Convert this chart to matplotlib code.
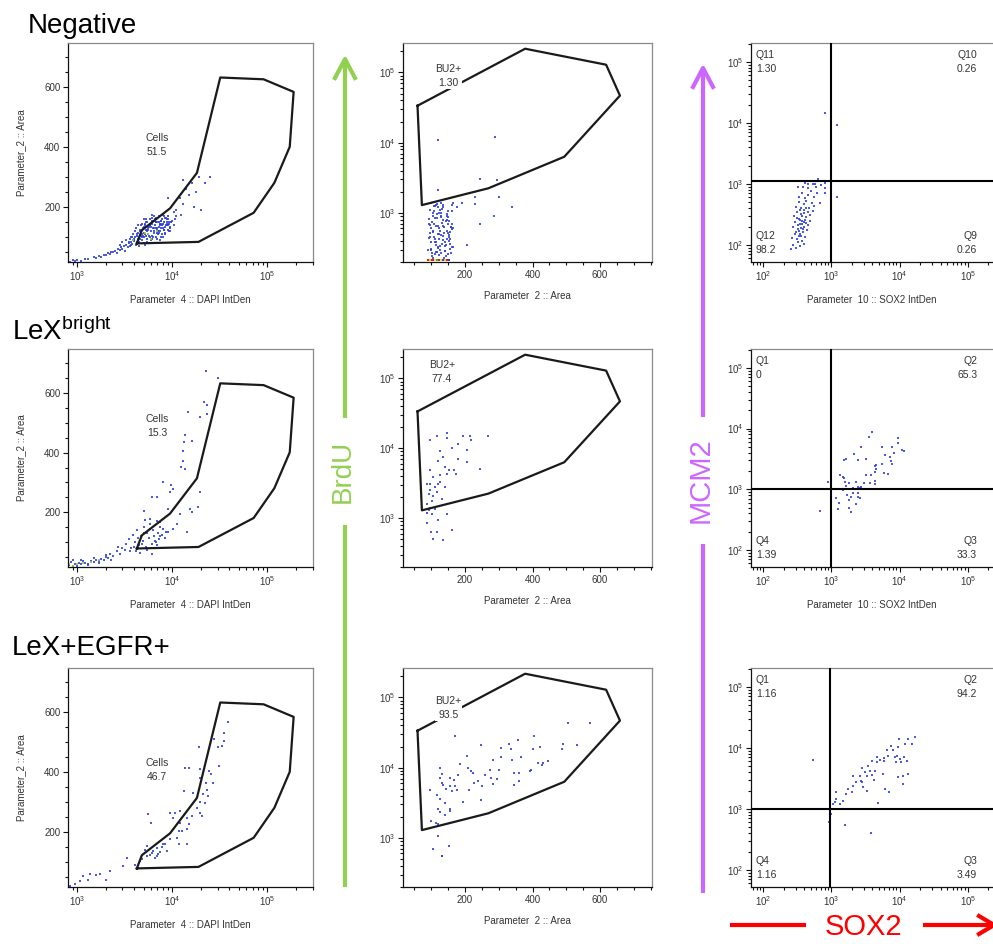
import numpy as np
import matplotlib
matplotlib.use("Agg")
import matplotlib.pyplot as plt
from matplotlib.ticker import MultipleLocator, LogLocator, NullFormatter

plt.rcParams["font.family"] = ["Liberation Sans", "DejaVu Sans"]
plt.rcParams["mathtext.fontset"] = "custom"
plt.rcParams["mathtext.rm"] = "Liberation Sans"
plt.rcParams["mathtext.it"] = "Liberation Sans:italic"
plt.rcParams["mathtext.bf"] = "Liberation Sans:bold"

# ---------------- data ----------------
row_titles = ["Negative", r"LeX$^{\mathrm{bright}}$", "LeX+EGFR+"]

# column 1 : DAPI IntDen vs Area, "Cells" gate
gate_dapi = [4250, 4800, 9500, 18200, 32000, 91400, 189000, 172000, 118600, 71800, 18900, 4250]
gate_area = [79, 123, 196, 314, 632, 626, 584, 401, 281, 181, 84, 79]
cells_pct = ["51.5", "15.3", "46.7"]
cells_label_y = [408, 490, 408]

neg_dapi = [800, 850, 900, 950, 1000, 1100, 1200, 1300, 1500, 1600, 1700, 1800, 1900, 2000, 2100, 2200,
            2300, 2400, 2500, 2600, 2700, 2800, 2900, 3000, 3100, 3200, 3300, 3400, 3500, 3600, 3700, 3800,
            3900, 4000,
            4100, 4200, 4300, 4400, 4500, 4600, 4700, 4800, 4900, 5000, 5100, 5200, 5300, 5400, 5500, 5600,
            5700, 5800, 5900, 6000, 6100, 6200, 6300, 6400, 6500, 6600, 6700, 6800, 6900, 7000, 7100, 7200,
            7300, 7400, 7500, 7600, 7800, 8000, 8200, 8400, 8600, 8800, 9000, 9300, 9600, 10000, 10400, 10800,
            3600, 3900, 4200, 4500, 5000, 5500, 6000, 3300, 3000, 2800, 4800, 5300, 6200, 7000, 8000,
            4300, 4600, 4900, 5200, 5500, 5800, 6100, 6400, 6700, 7000, 7300, 7600, 7900, 8200, 8500, 8800,
            9100, 9400, 9700, 4400, 4700, 5000, 5300, 5600, 5900, 6200, 6500, 6800, 7100, 7400, 7700, 8100,
            8500, 9000, 9500, 3700, 4000, 4400, 4800, 5200,
            3500, 3800, 4100, 4400, 4700, 5000, 5300, 5600, 5900, 6200, 6500, 6800, 7100, 7400, 7700, 8000,
            8300, 8600, 8900, 9200, 3650, 3950, 4250, 4550, 4850, 5150, 5450, 5750, 6050, 6350, 6650, 6950,
            7250, 7550, 7850, 8150, 8450, 8750, 9050, 9350,
            11000, 12000, 14000, 13000, 16000, 18000, 19000, 22000, 25000, 17000, 20000, 15000, 9000, 11000,
            13000, 10500, 12500]
neg_area = [22, 18, 25, 20, 24, 22, 28, 26, 35, 30, 38, 33, 42, 40, 48, 45,
            52, 50, 55, 48, 60, 58, 66, 62, 70, 55, 75, 68, 80, 72, 85, 78,
            92, 88,
            100, 75, 110, 95, 85, 120, 105, 90, 130, 115, 100, 140, 125, 95, 150, 110,
            135, 100, 160, 120, 145, 105, 130, 155, 115, 140, 100, 165, 125, 150, 110, 135,
            170, 120, 145, 100, 160, 130, 150, 115, 140, 160, 125, 150, 135, 155, 140, 160,
            95, 110, 130, 70, 80, 85, 90, 90, 85, 75, 145, 160, 175, 95, 100,
            85, 95, 105, 75, 125, 140, 95, 120, 150, 130, 115, 155, 140, 125, 165, 145,
            170, 130, 150, 115, 140, 160, 105, 130, 80, 155, 170, 130, 120, 90, 145, 175,
            110, 140, 120, 75, 95, 80, 100, 110,
            85, 100, 120, 140, 115, 135, 150, 125, 140, 165, 130, 150, 120, 140, 155, 145,
            125, 165, 140, 120, 100, 90, 105, 125, 110, 145, 120, 105, 135, 100, 160, 115,
            150, 130, 110, 170, 135, 150, 160, 145,
            190, 230, 260, 210, 280, 250, 300, 280, 300, 200, 190, 240, 230, 170,
            290, 185, 175]
neg_hot_dapi = [4500, 5200, 6000, 4800, 5600, 7000, 3900]
neg_hot_area = [100, 115, 95, 125, 110, 120, 90]

bright_dapi = [22700, 30100, 21800, 23200, 19800, 14600, 23200, 13700, 16200, 13200, 13000, 13000,
               12400, 13700, 7970, 9700, 10300, 9500, 19800, 6100, 6900, 15500, 18900, 16000, 5000,
               9100, 12100, 5900, 7500, 11200, 10300, 14300, 9100,
               3300, 3500, 3700, 3900, 4100, 4300, 4500, 4700, 4900, 5100, 5300, 5500, 5700, 5900,
               6100, 6300, 6500, 6700, 6900, 7100, 7300, 7500, 7800, 8100, 8400, 8700,
               4200, 4600, 5000, 5400, 5800, 6200, 6600, 7000, 7400, 3600, 4000, 4400, 4800, 5200,
               750, 780, 800, 830, 860, 900, 950, 1000, 1050, 1100, 1150, 1200, 1300, 1400, 1500,
               1600, 1700, 1800, 1900, 2000, 2100, 2200, 2400, 2600, 2800, 3000, 3200,
               900, 1100, 1300, 1500, 1700, 2000, 2300, 2700]
bright_area = [675, 649, 569, 558, 518, 535, 530, 459, 440, 437, 407, 373,
               351, 345, 301, 290, 278, 267, 267, 250, 250, 211, 217, 200, 206,
               211, 194, 178, 167, 161, 144, 133, 133,
               95, 110, 80, 125, 100, 140, 90, 120, 105, 150, 85, 130, 115, 160,
               95, 140, 120, 100, 170, 130, 110, 150, 125, 145, 115, 135,
               70, 65, 130, 75, 145, 60, 105, 90, 120, 70, 85, 115, 95, 175,
               20, 30, 18, 25, 35, 22, 28, 20, 32, 26, 38, 30, 28, 36, 33,
               42, 38, 45, 40, 52, 48, 60, 55, 70, 62, 80, 75,
               40, 42, 25, 48, 30, 58, 42, 85]
bright_hot_dapi = [760, 820, 900, 1000, 1150, 1400, 1700]
bright_hot_area = [22, 27, 20, 26, 30, 33, 40]

egfr_dapi = [38700, 35400, 35400, 33500, 27300, 19000, 30400, 30800, 24200, 13700, 15200, 19400,
             25400, 19700, 22500, 23000, 27000, 13200, 16700, 21300, 23700, 19800, 22200, 18200,
             19500, 16100, 20500, 5630, 5950, 9530, 10700, 12100, 14300, 14900, 14300, 12600,
             11200, 9500, 8100, 7000, 6350, 7150, 5400, 4600, 4060, 3320, 3060, 2210, 2040, 1750,
             1600, 1360, 1300, 1160, 1070, 950, 840, 800, 14300, 8800, 11800, 12100, 10300, 11800,
             5200, 5800, 6200, 6600, 7400, 7900, 8400, 4800, 5500, 6900]
egfr_area = [568, 529, 503, 487, 512, 483, 483, 420, 403, 414, 414, 409,
             395, 381, 364, 342, 364, 336, 331, 326, 320, 301, 298, 281,
             264, 253, 253, 259, 231, 264, 264, 270, 248, 226, 209, 203,
             181, 176, 159, 148, 137, 126, 120, 103, 92, 114, 87, 70, 42, 59,
             58, 59, 42, 53, 37, 26, 20, 31, 159, 137, 203, 231, 248, 159,
             140, 125, 130, 115, 135, 150, 160, 110, 155, 120]

# column 2 : Area vs BrdU, "BU2+" gate
gate2_area = [59, 378, 618, 659, 494, 269, 72, 59]
gate2_brdu = [33600, 218000, 129000, 46800, 6300, 2240, 1290, 33600]
bu2_pct = ["1.30", "77.4", "93.5"]
bu2_label_y = [10 ** 4.95, 10 ** 5.09, 10 ** 4.85]
bu2_label_x = [150, 131, 151]

neg2_area = [95, 100, 105, 110, 115, 120, 125, 130, 135, 140, 145, 150, 155, 160,
             98, 103, 108, 113, 118, 123, 128, 133, 138, 143, 148, 153, 158, 163,
             92, 97, 102, 107, 112, 117, 122, 127, 132, 137, 142, 147, 152, 157, 162,
             96, 101, 106, 111, 116, 121, 126, 131, 136, 141, 146, 151, 156,
             94, 99, 104, 109, 114, 119, 124, 129, 134, 139, 144, 149, 154, 159,
             112, 118, 124, 130, 136,
             90, 95, 100, 105, 110, 115, 120, 125, 130, 135, 140, 145, 150, 155, 160, 165,
             93, 108, 123, 138, 153, 100, 115, 130, 145, 160, 105, 120, 135, 150,
             120, 290, 245, 295, 120, 230, 300, 340, 190, 230, 175, 245, 285, 205, 165, 160]
neg2_brdu = [520, 380, 900, 260, 650, 1200, 340, 480, 800, 290, 560, 1050, 420, 700,
             310, 750, 450, 1300, 280, 600, 980, 360, 520, 240, 880, 400, 630, 330,
             440, 1100, 270, 700, 380, 950, 500, 300, 1150, 620, 350, 780, 460, 270, 580,
             680, 240, 1000, 420, 850, 330, 560, 720, 410, 290, 900, 480, 360,
             820, 300, 540, 1050, 380, 660, 250, 900, 470, 340, 760, 520, 310, 620,
             1250, 1350, 1000, 1400, 1200,
             300, 450, 600, 230, 850, 350, 500, 1100, 270, 650, 380, 950, 260, 540, 330, 600,
             700, 1250, 420, 230, 760, 1400, 280, 880, 430, 1050, 560, 320, 1300, 700,
             11000, 12000, 3000, 2900, 2100, 1700, 1700, 1200, 1400, 1350, 1200, 700, 900, 350, 1400, 1300]
neg2_floor_area = [92, 98, 104, 110, 116, 122, 128, 134, 140, 146, 152]

bright2_area = [146, 116, 193, 215, 269, 97, 146, 218, 180, 160, 126, 205, 136, 121, 180, 141, 205,
                244, 166, 151, 146, 173, 97, 106, 126, 87, 111, 121, 126, 97, 92, 106, 116, 102, 87,
                97, 111, 87, 102, 146, 87, 121, 99, 116, 160, 106, 136, 92, 139, 131, 97]
bright2_brdu = [16600, 15000, 15000, 15000, 15000, 12900, 14000, 12900, 11500, 10100, 9060, 9500,
                7400, 6460, 6900, 5400, 6300, 5060, 4800, 4900, 4300, 4300, 4800, 3850, 4200, 3100,
                2750, 3100, 3250, 2500, 2200, 2100, 2400, 1780, 1600, 1400, 1370, 1170, 1130, 1130,
                860, 940, 630, 630, 670, 500, 480, 1300, 2750, 1900, 3100]

egfr2_area = [505, 569, 170, 247, 405, 358, 331, 489, 532, 422, 400, 305, 336, 486, 205, 305, 367,
              340, 284, 432, 446, 417, 429, 185, 210, 126, 300, 274, 394, 392, 217, 223, 131, 180,
              259, 345, 360, 126, 239, 278, 295, 360, 155, 167, 131, 225, 345, 249, 284, 155, 170,
              134, 143, 175, 97, 160, 116, 213, 126, 195, 247, 141, 121, 155, 126, 141, 155, 99,
              115, 121, 121, 151, 104, 131, 133]
egfr2_brdu = [44000, 42900, 28400, 21100, 28000, 25000, 21400, 21400, 21000, 19700, 18500, 19300,
              18600, 18500, 14700, 14300, 14300, 13000, 13000, 11700, 12600, 11600, 10800, 11100,
              10000, 10000, 9200, 9200, 9300, 9000, 8900, 8500, 8200, 7900, 7900, 8500, 8400, 7200,
              6500, 7100, 6800, 6400, 7200, 6600, 6100, 6100, 5600, 5500, 5900, 5500, 5500, 5600,
              4900, 4800, 4800, 4600, 4100, 4800, 3530, 3200, 3500, 3100, 2540, 2540, 2340, 2150,
              2400, 1730, 1650, 1600, 1050, 760, 700, 550, 545]

# column 3 : SOX2 IntDen vs MCM2, quadrant gates
quad_names = [["Q11", "Q10", "Q12", "Q9"], ["Q1", "Q2", "Q4", "Q3"], ["Q1", "Q2", "Q4", "Q3"]]
quad_pct = [["1.30", "0.26", "98.2", "0.26"], ["0", "65.3", "1.39", "33.3"], ["1.16", "94.2", "1.16", "3.49"]]
quad_x = [1000, 1000, 950]
quad_y = [1120, 1000, 1000]

neg3_sox2 = [255, 275, 300, 320, 340, 370, 390,
             265, 290, 310, 335, 360, 385, 410, 440,
             270, 295, 320, 345, 370, 395, 420, 450, 480,
             285, 310, 335, 360, 390, 420, 450, 490, 530,
             300, 330, 360, 395, 430, 470, 510, 560,
             330, 370, 410, 450, 500, 560, 620,
             380, 460, 540, 600, 700,
             320, 340, 355, 375, 390, 345, 365, 400, 315, 350, 380, 410, 430, 300, 330,
             817, 1210, 1190, 638, 570, 410, 460, 800, 800, 800, 690, 325, 720]
neg3_mcm2 = [85, 100, 90, 110, 95, 115, 105,
             130, 150, 125, 170, 140, 160, 135, 175,
             200, 240, 185, 220, 250, 195, 230, 210, 250,
             300, 350, 270, 320, 370, 290, 340, 310, 360,
             420, 500, 400, 460, 530, 410, 480, 440,
             600, 700, 580, 650, 760, 620, 720,
             900, 850, 1000, 880, 950,
             210, 260, 190, 300, 240, 150, 220, 330, 280, 380, 180, 260, 400, 160, 140,
             14500, 9200, 617, 1190, 1000, 1030, 1000, 1030, 850, 700, 480, 900, 1100]

bright3_sox2 = [4000, 3500, 2700, 2150, 1530, 3180, 2470, 5600, 7800, 9500, 9500, 11000, 11500,
                6100, 7200, 8300, 7400, 7800, 5500, 4500, 4500, 4300, 3800, 3200, 5900, 6800, 4350,
                3650, 4300, 3000, 2700, 2300, 2450, 2040, 1830, 1600, 1350, 1530, 1620, 1470, 2040,
                2450, 1710, 1960, 2450, 1830, 2280, 1170, 1300, 1250, 1830, 1960, 2600, 2600, 3250,
                670, 890, 1470, 4300, 1620]
bright3_mcm2 = [8800, 7200, 4900, 3850, 3000, 3200, 3000, 4900, 4900, 6900, 5700, 4500, 4300,
                3700, 3400, 3900, 2900, 2600, 2600, 2500, 2130, 1950, 1700, 1700, 1850, 1800, 1390,
                1260, 1200, 1260, 1090, 1300, 1100, 1040, 1260, 1330, 1720, 1520, 1150, 975, 860,
                860, 800, 760, 760, 670, 580, 720, 590, 470, 490, 430, 720, 1040, 1000,
                440, 1330, 1610, 2400, 3100]

egfr3_sox2 = [530, 16700, 13300, 9700, 15200, 12100, 7400, 9400, 6500, 8000, 6700, 8500, 5900,
              4600, 5200, 9300, 11500, 12900, 10600, 10000, 8900, 4000, 3450, 4600, 5900, 3700,
              4360, 2850, 3100, 2100, 2630, 3300, 3900, 5700, 9600, 11200, 13500, 11400, 2330,
              2800, 2950, 2100, 1760, 2000, 1660, 1480, 1180, 1120, 1320, 1050, 1180, 2750, 4170,
              6900, 4900, 6200, 3300, 1000, 930, 1580, 3780]
egfr3_mcm2 = [6400, 15100, 14000, 14000, 11400, 11800, 10800, 10500, 9200, 9400, 7400, 7000, 6900,
              7000, 6300, 7500, 7000, 6200, 5800, 6600, 5800, 6100, 5100, 5800, 6000, 4250,
              4200, 4700, 4000, 3400, 3400, 3500, 3600, 3750, 3300, 3500, 3800, 2570, 2750,
              2750, 2270, 2400, 2130, 1870, 1770, 1370, 1450, 1290, 1200, 1200, 1880, 2900, 3000,
              1870, 1240, 2100, 2000, 830, 600, 550, 400]

col1_data = [(neg_dapi, neg_area), (bright_dapi, bright_area), (egfr_dapi, egfr_area)]
col1_hot = [(neg_hot_dapi, neg_hot_area), (bright_hot_dapi, bright_hot_area), None]
col2_data = [(neg2_area, neg2_brdu), (bright2_area, bright2_brdu), (egfr2_area, egfr2_brdu)]
col3_data = [(neg3_sox2, neg3_mcm2), (bright3_sox2, bright3_mcm2), (egfr3_sox2, egfr3_mcm2)]

# ---------------- layout ----------------
W, H = 993, 944
fig = plt.figure(figsize=(W / 100, H / 100), dpi=100)

rows = [(43, 262), (349, 567), (668, 887)]
cols = [(68, 313), (403, 652), (751, 993)]

DOT = "#2b3ee0"
HOT = "#9acd32"
TXT = "#333333"


def add_ax(c, r):
    (l, rr), (t, b) = cols[c], rows[r]
    return fig.add_axes([l / W, 1 - b / H, (rr - l) / W, (b - t) / H])


def style(ax):
    for s in ["top", "right"]:
        ax.spines[s].set_color("#8a8a8a")
    for s in ["left", "bottom"]:
        ax.spines[s].set_color("#111111")
    for s in ax.spines.values():
        s.set_linewidth(0.9)
    ax.tick_params(which="both", direction="out", top=False, right=False,
                   labelsize=7, labelcolor=TXT, color="#111111", width=0.8)
    ax.tick_params(which="major", length=3.5, pad=2)
    ax.tick_params(which="minor", length=2)


def log_ticks(axis):
    axis.set_major_locator(LogLocator(base=10, numticks=20))
    axis.set_minor_locator(LogLocator(base=10, subs=np.arange(2, 10) * 1.0, numticks=100))
    axis.set_minor_formatter(NullFormatter())


def dots(ax, x, y, color=DOT):
    ax.scatter(x, y, s=2.2, marker="s", color=color, linewidths=0, alpha=0.85, zorder=2)


for r in range(3):
    # column 1
    ax = add_ax(0, r)
    ax.set_xscale("log")
    ax.set_xlim(10 ** 2.905, 10 ** 5.48)
    ax.set_ylim(17, 747)
    log_ticks(ax.xaxis)
    ax.yaxis.set_major_locator(MultipleLocator(200))
    ax.yaxis.set_minor_locator(MultipleLocator(50))
    dots(ax, *col1_data[r])
    if col1_hot[r] is not None:
        dots(ax, *col1_hot[r], color=HOT)
    ax.plot(gate_dapi, gate_area, color="#1a1a1a", lw=1.6, zorder=3)
    ax.text(6900, cells_label_y[r], "Cells\n" + cells_pct[r], ha="center", va="center",
            fontsize=7.5, color=TXT, linespacing=1.5)
    ax.set_xlabel("Parameter  4 :: DAPI IntDen", fontsize=7, color=TXT, labelpad=8)
    ax.set_ylabel("Parameter_2 :: Area", fontsize=7, color=TXT, labelpad=13)
    style(ax)

    # column 2
    ax = add_ax(1, r)
    ax.set_yscale("log")
    ax.set_xlim(16, 754)
    ax.set_ylim(10 ** 2.30, 10 ** 5.42)
    log_ticks(ax.yaxis)
    ax.xaxis.set_major_locator(MultipleLocator(200))
    ax.xaxis.set_minor_locator(MultipleLocator(50))
    dots(ax, *col2_data[r])
    if r == 0:
        ax.scatter(neg2_floor_area, [212] * len(neg2_floor_area), s=3, marker="s",
                   color=["#e02020", "#e8d020", "#e02020", "#f0e040", "#40b040", "#e02020",
                          "#f0e040", "#2b3ee0", "#e8d020", "#e02020", "#2b3ee0"],
                   linewidths=0, zorder=2, clip_on=False)
    ax.plot(gate2_area, gate2_brdu, color="#1a1a1a", lw=1.6, zorder=3)
    ax.text(bu2_label_x[r], bu2_label_y[r], "BU2+\n" + bu2_pct[r], ha="center", va="center",
            fontsize=7.5, color=TXT, linespacing=1.5, zorder=4,
            bbox=dict(boxstyle="square,pad=0.05", fc="white", ec="none"))
    ax.set_xlabel("Parameter  2 :: Area", fontsize=7, color=TXT, labelpad=8)
    style(ax)

    # column 3
    ax = add_ax(2, r)
    ax.set_xscale("log")
    ax.set_yscale("log")
    ax.set_xlim(10 ** 1.82, 10 ** 5.37)
    ax.set_ylim(10 ** 1.72, 10 ** 5.31)
    log_ticks(ax.xaxis)
    log_ticks(ax.yaxis)
    dots(ax, *col3_data[r])
    ax.axvline(quad_x[r], color="black", lw=1.5, zorder=3)
    ax.axhline(quad_y[r], color="black", lw=1.5, zorder=3)
    nm, pc = quad_names[r], quad_pct[r]
    kw = dict(fontsize=7.5, color=TXT, transform=ax.transAxes, linespacing=1.5)
    ax.text(0.02, 0.97, nm[0] + "\n" + pc[0], ha="left", va="top", **kw)
    ax.text(0.935, 0.97, nm[1] + "\n" + pc[1], ha="right", va="top", **kw)
    ax.text(0.02, 0.03, nm[2] + "\n" + pc[2], ha="left", va="bottom", **kw)
    ax.text(0.935, 0.03, nm[3] + "\n" + pc[3], ha="right", va="bottom", **kw)
    if r < 2:
        ax.set_xlabel("Parameter  10 :: SOX2 IntDen", fontsize=7, color=TXT, labelpad=8)
    style(ax)
    ax.spines["right"].set_visible(False)

# ---------------- overlay: titles and marker arrows (pixel coordinates) ----------------
ov = fig.add_axes([0, 0, 1, 1])
ov.set_xlim(0, W)
ov.set_ylim(H, 0)
ov.axis("off")

title_pos = [(28, 33), (12, 340), (12, 655)]
for (tx, ty), t in zip(title_pos, row_titles):
    ov.text(tx, ty, t, fontsize=20, ha="left", va="baseline", color="black")

GREEN, PURPLE, RED = "#92d050", "#cc66ff", "#ff0000"
LW = 3

# BrdU arrow
ov.plot([345, 345], [887, 525], color=GREEN, lw=LW, solid_capstyle="butt")
ov.plot([345, 345], [418, 60], color=GREEN, lw=LW, solid_capstyle="butt")
ov.plot([335, 345, 355], [78, 59, 78], color=GREEN, lw=LW)
ov.text(343, 471, "BrdU", rotation=90, fontsize=20, color=GREEN, ha="center", va="center")

# MCM2 arrow
ov.plot([703, 703], [893, 544], color=PURPLE, lw=LW, solid_capstyle="butt")
ov.plot([703, 703], [417, 69], color=PURPLE, lw=LW, solid_capstyle="butt")
ov.plot([693, 703, 713], [87, 68, 87], color=PURPLE, lw=LW)
ov.text(701, 480, "MCM2", rotation=90, fontsize=21, color=PURPLE, ha="center", va="center")

# SOX2 arrow
ov.plot([730, 806], [925, 925], color=RED, lw=LW, solid_capstyle="butt")
ov.plot([923, 994], [925, 925], color=RED, lw=LW, solid_capstyle="butt")
ov.plot([979, 994, 979], [916, 925, 934], color=RED, lw=LW)
ov.text(864, 927, "SOX2", fontsize=21, color=RED, ha="center", va="center")

fig.savefig("out.png", dpi=100)
